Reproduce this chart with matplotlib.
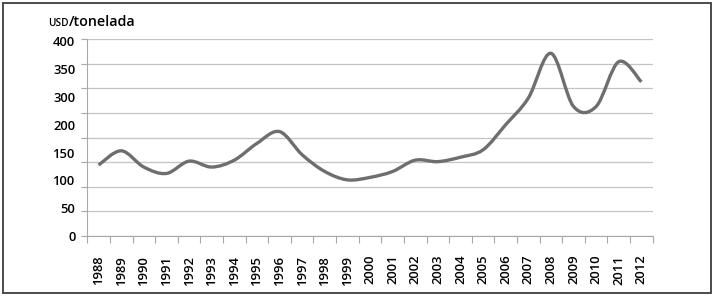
import numpy as np
import matplotlib.pyplot as plt
from matplotlib.path import Path
from matplotlib.patches import PathPatch, Rectangle

plt.rcParams['font.family'] = ['Open Sans', 'DejaVu Sans']

# Data
years = [str(y) for y in range(1988, 2013)]
price = [144, 173, 140, 127, 152, 140, 154, 188, 212, 165, 131, 114, 119,
         131, 154, 151, 160, 175, 226, 280, 371, 263, 263, 354, 313]

# Gridlines at every 50, but the original only prints these labels,
# spread evenly down the axis
grid_vals = list(range(0, 401, 50))
y_labels = ['0', '50', '100', '150', '200', '300', '350', '400']

LINE = '#6e6e6e'
GRID = '#c4c4c4'
AXC = '#a8a8a8'
TXT = '#000000'
WT = 600

fig = plt.figure(figsize=(7.13, 2.96), dpi=100)
ax = fig.add_axes([0.1224, 0.2027, 0.793, 0.6655])

n = len(years)
x = np.arange(n)
y = np.array(price, dtype=float)

# smoothed line like a spreadsheet chart: Catmull-Rom as cubic Bezier segments
verts = [(x[0], y[0])]
codes = [Path.MOVETO]
for i in range(n - 1):
    p0 = np.array([x[max(i - 1, 0)], y[max(i - 1, 0)]])
    p1 = np.array([x[i], y[i]])
    p2 = np.array([x[i + 1], y[i + 1]])
    p3 = np.array([x[min(i + 2, n - 1)], y[min(i + 2, n - 1)]])
    c1 = p1 + (p2 - p0) / 6.0
    c2 = p2 - (p3 - p1) / 6.0
    verts += [tuple(c1), tuple(c2), tuple(p2)]
    codes += [Path.CURVE4] * 3
ax.add_patch(PathPatch(Path(verts, codes), facecolor='none', edgecolor=LINE,
                       lw=2.4, capstyle='butt', joinstyle='round', zorder=3))

ax.set_xlim(-0.5, n - 0.5)
ax.set_ylim(0, 400)

# y axis: gridlines + small ticks, labels on minor positions
ax.yaxis.remove_overlapping_locs = False
ax.set_yticks(grid_vals, labels=[''] * len(grid_vals))
ax.set_yticks(np.linspace(0, 395, len(y_labels)), labels=y_labels, minor=True)
ax.tick_params(axis='y', which='major', length=4, color=AXC, width=0.8)
ax.tick_params(axis='y', which='minor', length=0, pad=8.5, labelsize=9.4,
               labelcolor=TXT)
ax.yaxis.grid(True, which='major', color=GRID, lw=0.9)

# x axis: tick marks between categories, labels at centres
ax.set_xticks(np.arange(-0.5, n, 1.0), labels=[''] * (n + 1))
ax.set_xticks(x, labels=years, minor=True, rotation=90)
ax.tick_params(axis='x', which='major', length=5, color=AXC, width=0.8)
ax.tick_params(axis='x', which='minor', length=0, pad=13.5, labelsize=9.4,
               labelcolor=TXT)
for lab in ax.get_xticklabels(minor=True) + ax.get_yticklabels(minor=True):
    lab.set_fontweight(WT)

for side in ['top', 'right']:
    ax.spines[side].set_visible(False)
for side in ['left', 'bottom']:
    ax.spines[side].set_color(AXC)
    ax.spines[side].set_linewidth(0.8)

# unit label with small-caps USD, second part placed right after the first
base_y = (296 - 26) / 296
t1 = fig.text(48 / 713, base_y, 'USD', fontsize=7.2, va='baseline',
              color=TXT, fontweight=WT)
fig.canvas.draw()
bb = t1.get_window_extent()
fig.text((bb.x1 + 0.5) / 713, base_y, '/tonelada', fontsize=10.3,
         va='baseline', color=TXT, fontweight=WT)

# frame round the whole figure
fig.patches.append(Rectangle((2.5 / 713, 3 / 296), 708.5 / 713, 290 / 296,
                             transform=fig.transFigure, fill=False,
                             edgecolor='#3c3c3c', lw=1.3))

fig.savefig('out.png', dpi=100)
